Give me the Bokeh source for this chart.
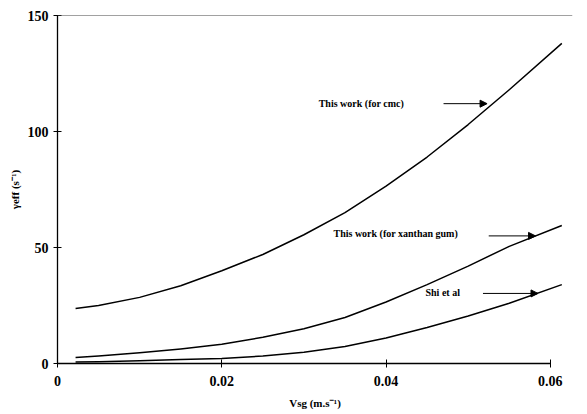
from bokeh.plotting import figure
from bokeh.models import Range1d, FixedTicker, Arrow, NormalHead, Label, Span
from bokeh.embed import file_html
from bokeh.resources import INLINE

# Data
vsg = [0.0022, 0.005, 0.01, 0.015, 0.02, 0.025, 0.03, 0.035, 0.04, 0.045, 0.05, 0.055, 0.0614]
gamma_cmc = [23.7, 25.0, 28.5, 33.5, 40.0, 47.0, 55.5, 65.0, 76.5, 89.0, 103.0, 118.0, 138.0]
gamma_xanthan = [2.6, 3.2, 4.6, 6.3, 8.3, 11.3, 15.0, 19.8, 26.5, 34.0, 42.0, 50.5, 59.5]
gamma_shi = [0.6, 0.8, 1.2, 1.7, 2.2, 3.2, 4.8, 7.3, 11.0, 15.5, 20.5, 26.0, 34.0]

x_ticks = [0, 0.02, 0.04, 0.06]
x_tick_labels = {0: "0", 0.02: "0.02", 0.04: "0.04", 0.06: "0.06"}
y_ticks = [0, 50, 100, 150]

# Annotations: (text, text_x, text_y, arrow_x_start, arrow_x_end, arrow_y)
ann_texts = ["This work (for cmc)", "This work (for xanthan gum)", "Shi et al"]
ann_text_x = [0.0318, 0.0336, 0.0448]
ann_text_y = [112.0, 56.0, 30.5]
ann_arrow_x0 = [0.0470, 0.0525, 0.0518]
ann_arrow_x1 = [0.0523, 0.0582, 0.0585]
ann_arrow_y = [112.0, 55.0, 30.2]

FONT = "serif"

p = figure(width=580, height=411, output_backend="svg", toolbar_location=None,
           x_range=Range1d(0, 0.0627), y_range=Range1d(0, 150),
           min_border_left=57, min_border_right=8, min_border_top=15, min_border_bottom=46)

p.outline_line_color = None
p.grid.visible = False
p.background_fill_color = "white"

for ys in (gamma_cmc, gamma_xanthan, gamma_shi):
    p.line(vsg, ys, line_color="black", line_width=1.5, line_join="round")

# frame top line
p.add_layout(Span(location=150, dimension="width", line_color="#444444", line_width=1.2))

for ax in (p.xaxis[0], p.yaxis[0]):
    ax.axis_line_color = "black"
    ax.axis_line_width = 1.3
    ax.major_tick_in = 4
    ax.major_tick_out = 4
    ax.major_tick_line_color = "black"
    ax.minor_tick_line_color = None
    ax.major_label_text_font = FONT
    ax.major_label_text_font_style = "bold"
    ax.major_label_text_font_size = "14px"
    ax.major_label_text_color = "black"
    ax.axis_label_text_font = FONT
    ax.axis_label_text_font_style = "bold"
    ax.axis_label_text_font_size = "11px"
    ax.axis_label_text_color = "black"

p.xaxis.ticker = FixedTicker(ticks=x_ticks)
p.xaxis.major_label_overrides = x_tick_labels
p.xaxis.bounds = (0, 0.06)
p.xaxis.major_label_standoff = 8
p.xaxis.axis_label = "Vsg (m.s⁻¹)"
p.xaxis.axis_label_standoff = 8

p.yaxis.ticker = FixedTicker(ticks=y_ticks)
p.yaxis.bounds = (0, 150)
p.yaxis.major_label_standoff = 5
p.yaxis.axis_label = "γeff (s⁻¹)"
p.yaxis.axis_label_standoff = 4

for t, tx, ty, ax0, ax1, ay in zip(ann_texts, ann_text_x, ann_text_y,
                                    ann_arrow_x0, ann_arrow_x1, ann_arrow_y):
    p.add_layout(Label(x=tx, y=ty, text=t, text_font=FONT, text_font_style="bold",
                       text_font_size="10px", text_baseline="middle", text_color="black"))
    p.add_layout(Arrow(x_start=ax0, y_start=ay, x_end=ax1, y_end=ay,
                       line_color="black", line_width=1,
                       end=NormalHead(size=7, fill_color="black", line_color="black")))

open("out.html", "w").write(file_html(p, INLINE))
